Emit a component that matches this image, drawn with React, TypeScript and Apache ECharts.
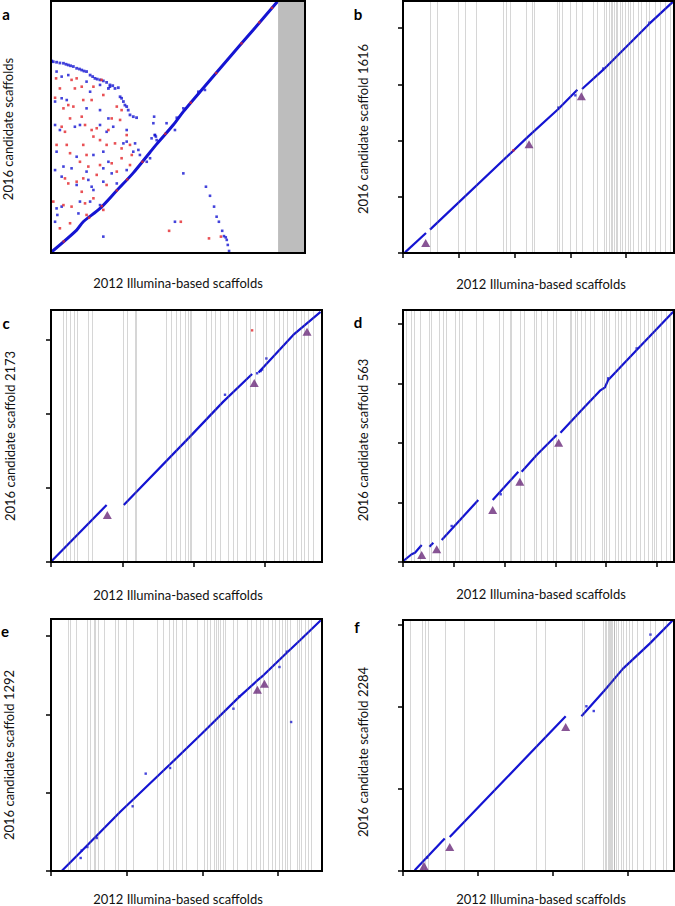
import React, { useEffect, useRef } from "react";
import * as echarts from "echarts";

const BLUE = "#1414d2";
const RED = "#e3262a";
const PURPLE = "#6a2a7a";
const GREY_LINE = "rgba(120,120,120,0.3)";
const FONT = "Lato";

// ---------------- Panel a ----------------
const aXMax = 100;
const aYMax = 100;
const aGreyBand = [89.4, 100];
const aCurve = [
  [0.3, 0.5], [10.1, 9.1], [12.7, 12.4], [19.3, 17.7], [25.9, 24.8], [32.4, 31.8],
  [39, 40], [41.6, 43.2], [48.1, 50.8], [52.1, 56.1], [58.7, 64], [70.5, 77.9],
  [79.6, 88.5], [89.1, 99.7],
];
const aArcBlue = [
  [0.3, 76.2], [0.9, 75.9], [2.2, 75.7], [3.5, 75.4], [4.9, 75.3], [5.9, 74.9], [6.8, 74.6],
  [7.7, 74.3], [8.8, 74.0], [10.1, 73.3], [11.2, 73.0], [12.1, 72.6], [13.0, 72.2], [14.0, 72.0],
  [15.4, 70.6], [16.4, 70.0], [17.3, 69.3], [18.2, 69.0], [19.3, 68.7], [20.6, 68.3], [21.9, 67.7],
  [23.2, 66.7], [24.3, 66.4], [22.6, 65.3], [25.2, 65.3], [26.5, 65.6], [27.2, 62.0], [27.8, 61.4],
  [28.5, 60.1], [29.1, 58.7], [29.8, 58.1], [30.4, 56.7], [31.1, 54.8], [32.4, 54.1], [33.7, 53.7],
];
const aBlueDots = [
  [2.2, 72.0], [4.2, 70.0], [6.8, 70.6], [14.0, 68.0], [19.3, 66.7], [15.4, 64.0], [23.2, 66.0],
  [1.6, 60.1], [4.2, 61.4], [6.2, 60.7], [14.0, 57.4], [19.3, 56.7], [22.6, 53.4], [1.6, 50.8],
  [3.5, 48.8], [9.4, 50.1], [11.4, 50.8], [19.3, 50.8], [21.9, 48.1], [24.5, 50.1], [29.8, 48.8],
  [33.1, 43.5], [2.2, 40.2], [10.1, 38.2], [16.7, 38.9], [20.6, 40.2], [22.6, 36.2], [28.5, 43.5],
  [32.4, 40.2], [35.0, 38.9], [4.9, 34.3], [8.1, 33.6], [14.0, 32.3], [20.6, 33.6], [23.9, 31.6],
  [29.8, 32.9], [1.6, 32.9], [4.2, 30.3], [10.1, 27.0], [14.7, 29.0], [16.0, 26.3], [20.6, 28.3],
  [16.7, 25.0], [25.9, 27.6], [2.2, 17.7], [4.2, 18.4], [11.4, 20.4], [15.4, 20.4], [19.3, 19.0],
  [2.5, 15.1], [1.6, 12.4], [10.8, 15.7], [20.6, 6.5], [39.6, 45.5], [40.9, 46.8], [41.6, 44.8],
  [37.7, 36.2], [39.0, 37.6], [34.4, 40.9], [29.8, 44.2], [40.6, 54.1], [40.3, 51.5], [40.9, 46.8],
  [41.3, 46.2], [45.5, 51.5], [48.8, 48.8], [49.5, 53.7], [52.1, 57.4], [58.0, 64.0], [60.6, 64.7],
  [52.1, 31.6], [61.0, 26.3], [62.6, 22.7], [64.2, 18.4], [65.2, 14.4], [66.1, 12.4], [67.4, 8.8],
  [68.1, 6.7], [68.8, 6.2], [69.2, 5.2], [69.6, 3.2], [70.1, 0.8], [48.8, 12.4],
];
const aRedDots = [
  [2.0, 69.3], [3.5, 65.3], [8.1, 68.7], [10.1, 69.3], [9.4, 65.3], [12.1, 66.0], [16.7, 66.0],
  [19.9, 68.7], [1.6, 61.6], [4.9, 57.4], [6.8, 58.7], [8.8, 58.1], [12.7, 60.7], [16.0, 60.7],
  [20.6, 62.7], [25.9, 58.1], [27.8, 56.7], [12.1, 54.1], [7.5, 53.4], [4.2, 50.1], [5.5, 48.1],
  [13.4, 50.8], [16.0, 48.8], [18.0, 49.5], [22.6, 48.8], [23.9, 53.4], [27.2, 52.8], [29.8, 46.8],
  [2.2, 42.9], [6.2, 42.9], [12.7, 42.9], [16.7, 46.2], [19.3, 44.8], [21.9, 42.9], [25.2, 43.5],
  [27.8, 41.5], [31.1, 42.9], [31.8, 38.9], [7.5, 39.6], [11.4, 36.2], [14.0, 38.9], [14.7, 34.3],
  [19.3, 34.9], [23.9, 35.6], [27.8, 37.6], [5.5, 29.6], [6.8, 27.6], [10.1, 28.3], [12.7, 29.6],
  [18.0, 31.0], [25.9, 32.3], [0.9, 20.4], [4.9, 19.0], [8.1, 18.4], [13.4, 19.7], [16.7, 21.7],
  [20.6, 17.1], [7.5, 11.8], [3.5, 9.8], [14.0, 15.1], [31.1, 34.9], [21.9, 27.0], [12.1, 24.3],
  [51.1, 12.4], [46.5, 8.8], [62.2, 5.8], [66.9, 6.5],
];
const aRedOnCurve = [
  [5.0, 4.6], [15.0, 14.0], [20.0, 18.6], [25.9, 24.8], [30.0, 29.2], [36.0, 36.2], [45.0, 47.3],
  [55.0, 59.6], [65.0, 71.4], [75.0, 83.2], [82.0, 91.5], [87.0, 97.3],
];

// ---------------- Panel b ----------------
const bXMax = 4.86;
const bYMax = 4.48;
const bXTicks = [0, 1, 2, 3, 4];
const bYTicks = [0, 1, 2, 3, 4];
const bSegments = [
  [[0.036, 0.012], [0.413, 0.356]],
  [[0.484, 0.415], [2.248, 2.074], [2.786, 2.56], [3.127, 2.904]],
  [[3.211, 2.916], [3.593, 3.259], [4.419, 4.077], [4.849, 4.474]],
];
const bDots = [[3.091, 2.803], [2.786, 2.585], [3.593, 3.28], [4.419, 4.095]];
const bRedDots = [[1.98, 1.825]];
const bTriangles = [[0.407, 0.178], [2.26, 1.932], [3.199, 2.785]];
const bGrey = [
  0.48, 0.62, 0.99, 1.12, 1.32, 1.8, 1.86, 1.93, 2.21, 2.31, 2.36, 2.76, 2.8, 2.85, 3.0, 3.1,
  3.22, 3.41, 3.49, 3.61, 3.65, 3.7, 3.73, 3.76, 3.79, 3.82, 3.85, 3.89, 3.94, 3.99, 4.04, 4.08,
  4.13, 4.21, 4.28, 4.36, 4.42, 4.52, 4.61, 4.7, 4.79,
];

// ---------------- Panel c ----------------
const cXMax = 3.8;
const cYMax = 3.405;
const cXTicks = [0, 1, 2, 3];
const cYTicks = [0, 1, 2, 3];
const cSegments = [
  [[0.01, 0.014], [0.78, 0.77]],
  [[1.02, 0.77], [1.949, 1.694], [2.416, 2.167], [2.82, 2.54]],
  [[2.91, 2.56], [3.397, 3.068], [3.78, 3.38]],
];
const cDots = [[2.44, 2.26], [3.02, 2.75], [2.94, 2.58], [2.96, 2.6], [2.89, 2.55]];
const cRedDots = [[2.82, 3.13]];
const cTriangles = [[0.79, 0.635], [2.85, 2.42], [3.59, 3.11]];
const cGrey = [
  0.17, 0.22, 0.27, 0.32, 0.37, 0.52, 0.58, 1.02, 1.07, 1.18, 1.2, 1.62, 1.68, 1.76, 1.81, 1.88,
  1.93, 1.95, 1.97, 2.18, 2.25, 2.31, 2.37, 2.48, 2.56, 2.61, 2.74, 2.8, 2.86, 2.98, 3.02, 3.13,
  3.2, 3.25, 3.31, 3.4, 3.44, 3.51, 3.55, 3.61, 3.68,
];

// ---------------- Panel d ----------------
const dXMax = 5.335;
const dYMax = 4.235;
const dXTicks = [0, 1, 2, 3, 4, 5];
const dYTicks = [0, 1, 2, 3, 4];
const dSegments = [
  [[0.006, 0.017], [0.17, 0.13], [0.236, 0.156], [0.368, 0.286]],
  [[0.52, 0.257], [0.597, 0.325]],
  [[0.762, 0.37], [1.482, 1.042]],
  [[1.766, 1.042], [2.27, 1.518]],
  [[2.336, 1.518], [2.632, 1.798], [3.025, 2.134]],
  [[3.1, 2.173], [3.518, 2.555], [3.878, 2.879], [3.976, 2.936], [4.04, 3.06], [4.6, 3.563], [5.32, 4.207]],
];
const dDots = [[0.958, 0.605], [1.923, 1.138], [4.04, 3.087], [4.6, 3.59]];
const dTriangles = [[0.368, 0.118], [0.663, 0.213], [1.766, 0.874], [2.3, 1.35], [3.064, 2.005]];
const dGrey = [
  0.07, 0.16, 0.22, 0.33, 0.52, 0.56, 0.71, 0.79, 0.86, 1.02, 1.1, 1.17, 1.45, 1.57, 1.9, 1.98,
  2.11, 2.14, 2.3, 2.38, 2.59, 2.63, 2.73, 2.84, 2.95, 3.02, 3.29, 3.32, 3.39, 3.43, 3.5, 3.58,
  3.68, 3.76, 3.92, 3.96, 4.01, 4.07, 4.17, 4.24, 4.3, 4.4, 4.47, 4.59, 4.67, 4.74, 4.83, 4.9,
  4.94, 4.99, 5.09, 5.18, 5.26,
];

// ---------------- Panel e ----------------
const eXMax = 3.58;
const eYMax = 3.217;
const eXTicks = [0, 1, 2, 3];
const eYTicks = [0, 1, 2, 3];
const eSegments = [
  [[0.141, 0], [0.405, 0.255], [0.912, 0.753], [1.573, 1.362], [1.991, 1.753], [2.476, 2.213],
   [2.718, 2.426], [2.806, 2.498], [3.115, 2.787], [3.29, 2.945], [3.564, 3.2]],
];
const eDots = [
  [0.392, 0.166], [1.079, 0.826], [1.251, 1.243], [1.573, 1.315], [2.41, 2.072], [3.018, 2.604],
  [3.172, 1.902], [0.48, 0.306], [0.604, 0.421], [0.405, 0.262], [2.49, 2.23], [3.115, 2.8],
];
const eTriangles = [[2.727, 2.315], [2.819, 2.391]];
const eGrey = [
  0.23, 0.26, 0.34, 0.48, 0.52, 0.57, 0.59, 0.63, 0.71, 0.85, 0.89, 1.0, 1.08, 1.4, 1.48, 1.56,
  1.62, 1.66, 1.73, 1.79, 1.93, 2.02, 2.06, 2.11, 2.15, 2.18, 2.21, 2.24, 2.27, 2.3, 2.41, 2.46,
  2.59, 2.64, 2.71, 2.77, 2.81, 2.87, 2.92, 2.96, 3.02, 3.05, 3.09, 3.12, 3.16, 3.25, 3.28, 3.31,
  3.36, 3.4, 3.44,
];

// ---------------- Panel f ----------------
const fXMax = 3.613;
const fYMax = 3.061;
const fXTicks = [0, 1, 2, 3];
const fYTicks = [0, 1, 2, 3];
const fSegments = [
  [[0.156, 0.01], [0.556, 0.395]],
  [[0.623, 0.415], [1.378, 1.134], [2.169, 1.887]],
  [[2.379, 1.887], [2.689, 2.204], [2.933, 2.468], [3.289, 2.773], [3.6, 3.06]],
];
const fDots = [[2.445, 2.009], [2.543, 1.951], [3.299, 2.883], [0.324, 0.163]];
const fTriangles = [[0.28, 0.061], [0.623, 0.293], [2.169, 1.756]];
const fGrey = [
  0.1, 0.26, 0.3, 0.33, 0.56, 0.81, 1.21, 1.77, 1.9, 2.39, 2.42, 2.67, 2.69, 2.71, 2.73, 2.75,
  2.76, 2.78, 2.79, 2.81, 2.82, 2.84, 2.87, 2.91, 2.94, 2.97, 3.02, 3.06, 3.12, 3.2, 3.29, 3.36,
  3.47, 3.51,
];

// ---------------- Labels ----------------
const panelLetters = ["a", "b", "c", "d", "e", "f"];
const xTitle = "2012 Illumina-based scaffolds";
const yTitles = [
  "2016 candidate scaffolds",
  "2016 candidate scaffold 1616",
  "2016 candidate scaffold 2173",
  "2016 candidate scaffold 563",
  "2016 candidate scaffold 1292",
  "2016 candidate scaffold 2284",
];

// layout (pixels)
const GRIDS = [
  { left: 51, top: 1, width: 254, height: 252 },
  { left: 403, top: 1, width: 271, height: 252 },
  { left: 51, top: 310, width: 271, height: 252 },
  { left: 403, top: 310, width: 271, height: 252 },
  { left: 51, top: 619, width: 271, height: 252 },
  { left: 403, top: 620, width: 271, height: 251 },
];
const LETTER_POS = [[6, 14], [358, 14], [6, 323], [358, 322], [5, 631], [357, 627]];
const YTITLE_POS = [[8, 129], [363, 129], [9.5, 436], [363, 440], [9, 755], [363, 752]];
const XTITLE_POS = [[178, 283], [541, 284], [178, 595], [541, 594], [178, 899], [541, 899]];

type Pt = number[];
interface Panel {
  xMax: number; yMax: number; xTicks: number[]; yTicks: number[];
  segments: Pt[][]; dots: Pt[]; redDots: Pt[]; triangles: Pt[]; grey: number[];
}

const panels: Panel[] = [
  { xMax: bXMax, yMax: bYMax, xTicks: bXTicks, yTicks: bYTicks, segments: bSegments, dots: bDots, redDots: bRedDots, triangles: bTriangles, grey: bGrey },
  { xMax: cXMax, yMax: cYMax, xTicks: cXTicks, yTicks: cYTicks, segments: cSegments, dots: cDots, redDots: cRedDots, triangles: cTriangles, grey: cGrey },
  { xMax: dXMax, yMax: dYMax, xTicks: dXTicks, yTicks: dYTicks, segments: dSegments, dots: dDots, redDots: [], triangles: dTriangles, grey: dGrey },
  { xMax: eXMax, yMax: eYMax, xTicks: eXTicks, yTicks: eYTicks, segments: eSegments, dots: eDots, redDots: [], triangles: eTriangles, grey: eGrey },
  { xMax: fXMax, yMax: fYMax, xTicks: fXTicks, yTicks: fYTicks, segments: fSegments, dots: fDots, redDots: [], triangles: fTriangles, grey: fGrey },
];

function makeAxis(i: number, max: number, ticks: number[]) {
  return {
    type: "value", gridIndex: i, min: 0, max,
    axisLine: { show: false },
    splitLine: { show: false },
    axisLabel: { show: false },
    axisTick: ticks.length
      ? { show: true, length: 5, lineStyle: { color: "#000", width: 1.5 }, customValues: ticks }
      : { show: false },
  };
}

function buildOption() {
  const grid = GRIDS.map((g) => ({
    ...g, show: true, borderColor: "#000", borderWidth: 2, backgroundColor: "transparent", z: 10,
  }));
  const xAxis: any[] = [makeAxis(0, aXMax, [])];
  const yAxis: any[] = [makeAxis(0, aYMax, [])];
  const series: any[] = [];
  const ax = { xAxisIndex: 0, yAxisIndex: 0, silent: true };

  // panel a
  series.push({
    ...ax, type: "scatter", data: [], z: 1,
    markArea: {
      silent: true, itemStyle: { color: "#bdbdbd" },
      data: [[{ xAxis: aGreyBand[0] }, { xAxis: aGreyBand[1] }]],
    },
  });
  series.push({ ...ax, type: "scatter", symbol: "rect", symbolSize: 2.6, itemStyle: { color: BLUE }, data: aBlueDots, z: 3 });
  series.push({ ...ax, type: "scatter", symbol: "rect", symbolSize: 2.8, itemStyle: { color: BLUE }, data: aArcBlue, z: 3 });
  series.push({ ...ax, type: "scatter", symbol: "rect", symbolSize: 2.6, itemStyle: { color: RED }, data: aRedDots, z: 3 });
  series.push({ ...ax, type: "line", data: aCurve, showSymbol: false, symbol: "none", smooth: 0.3, lineStyle: { color: BLUE, width: 3 }, z: 4 });
  series.push({ ...ax, type: "scatter", symbol: "rect", symbolSize: 2.4, itemStyle: { color: RED }, data: aRedOnCurve, z: 5 });

  panels.forEach((p, k) => {
    const i = k + 1;
    xAxis.push(makeAxis(i, p.xMax, p.xTicks));
    yAxis.push(makeAxis(i, p.yMax, p.yTicks));
    const base = { xAxisIndex: i, yAxisIndex: i, silent: true };
    series.push({
      ...base, type: "scatter", data: [], z: 1,
      markLine: {
        silent: true, symbol: ["none", "none"], label: { show: false },
        lineStyle: { color: GREY_LINE, width: 1, type: "solid" },
        emphasis: { disabled: true },
        data: p.grey.map((v) => ({ xAxis: v })),
      },
    });
    p.segments.forEach((seg) => {
      series.push({ ...base, type: "line", data: seg, showSymbol: false, symbol: "none", lineStyle: { color: BLUE, width: 2.2 }, z: 3 });
    });
    series.push({ ...base, type: "scatter", symbol: "rect", symbolSize: 2.4, itemStyle: { color: BLUE }, data: p.dots, z: 4 });
    series.push({ ...base, type: "scatter", symbol: "rect", symbolSize: 2.4, itemStyle: { color: RED }, data: p.redDots, z: 4 });
    series.push({ ...base, type: "scatter", symbol: "triangle", symbolSize: [9, 8], itemStyle: { color: PURPLE }, data: p.triangles, z: 5 });
  });

  const graphic: any[] = [];
  panelLetters.forEach((l, i) => {
    graphic.push({
      type: "text", x: LETTER_POS[i][0], y: LETTER_POS[i][1], silent: true,
      style: { text: l, font: `bold 15px ${FONT}`, fill: "#000", textAlign: "center", textVerticalAlign: "middle" },
    });
    graphic.push({
      type: "text", x: YTITLE_POS[i][0], y: YTITLE_POS[i][1], rotation: Math.PI / 2, silent: true,
      style: { text: yTitles[i], font: `13px ${FONT}`, fill: "#111", textAlign: "center", textVerticalAlign: "middle" },
    });
    graphic.push({
      type: "text", x: XTITLE_POS[i][0], y: XTITLE_POS[i][1], silent: true,
      style: { text: xTitle, font: `13px ${FONT}`, fill: "#111", textAlign: "center", textVerticalAlign: "middle" },
    });
  });

  return { animation: false, backgroundColor: "#fff", grid, xAxis, yAxis, series, graphic };
}

export default function App() {
  const ref = useRef<HTMLDivElement>(null);
  useEffect(() => {
    if (!ref.current) return;
    const chart = echarts.init(ref.current, undefined, { renderer: "svg" });
    chart.setOption(buildOption() as any);
    return () => chart.dispose();
  }, []);
  return (
    <div
      ref={ref}
      style={{ position: "absolute", left: 0, top: 0, width: 675, height: 906, background: "#fff" }}
    />
  );
}
